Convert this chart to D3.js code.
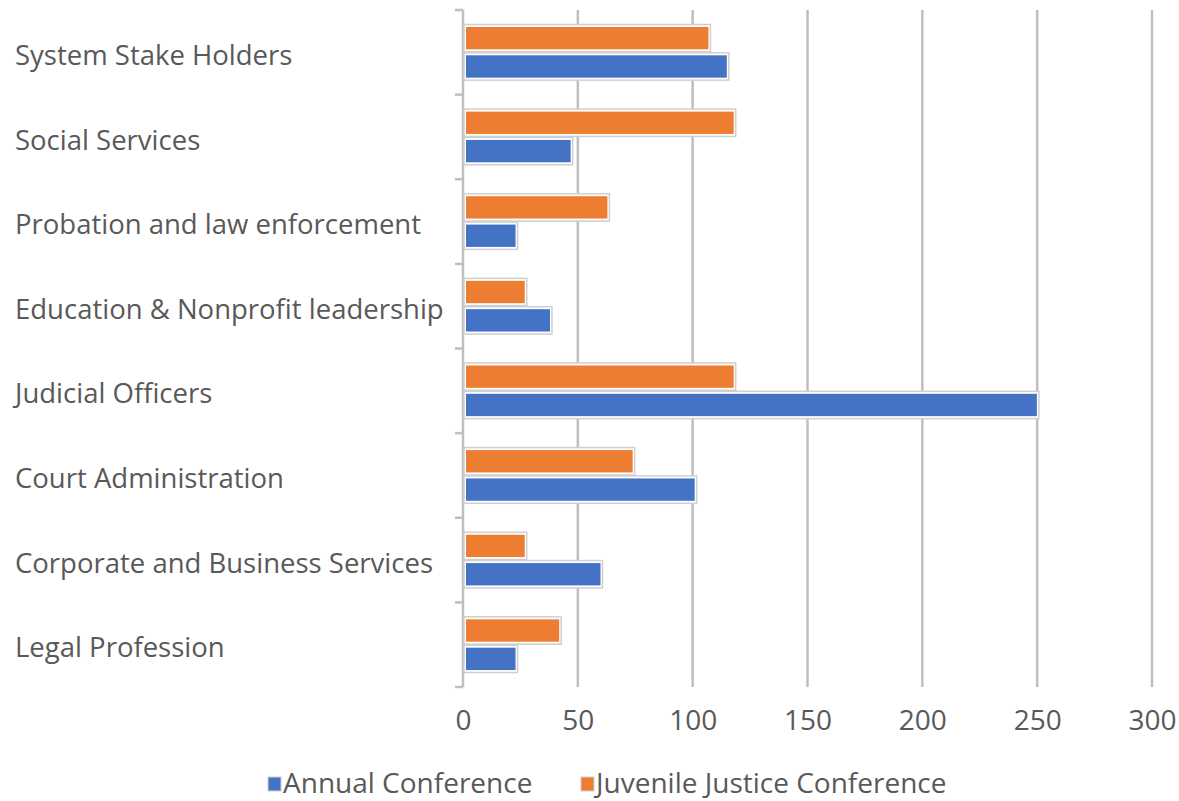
<!DOCTYPE html>
<html>
<head>
<meta charset="utf-8">
<script src="https://cdn.jsdelivr.net/npm/d3@7"></script>
<style>
  body { margin: 0; background: #fff; }
  text { font-family: 'Open Sans', 'Noto Sans', sans-serif; fill: #595959; }
</style>
</head>
<body>
<div id="chart"></div>
<script>
const categories = [
  'System Stake Holders',
  'Social Services',
  'Probation and law enforcement',
  'Education & Nonprofit leadership',
  'Judicial Officers',
  'Court Administration',
  'Corporate and Business Services',
  'Legal Profession',
]
const seriesNames = ['Juvenile Justice Conference', 'Annual Conference']
const annual = [114, 46, 22, 37, 249, 100, 59, 22]
const juvenile = [106, 117, 62, 26, 117, 73, 26, 41]
const xTicks = [0, 50, 100, 150, 200, 250, 300]

const colors = {
  'Annual Conference': '#4472C4',
  'Juvenile Justice Conference': '#ED7D31',
}

const width = 1179
const height = 801
const margin = { top: 10, right: 27, bottom: 114, left: 463 }
const innerW = width - margin.left - margin.right
const innerH = height - margin.top - margin.bottom

const rows = categories.map((c, i) => ({
  category: c,
  values: [
    { series: 'Juvenile Justice Conference', value: juvenile[i] },
    { series: 'Annual Conference', value: annual[i] },
  ],
}))

const svg = d3
  .select('#chart')
  .append('svg')
  .attr('width', width)
  .attr('height', height)

const g = svg.append('g').attr('transform', `translate(${margin.left},${margin.top})`)

const x = d3.scaleLinear().domain([0, 300]).range([0, innerW])
const y = d3.scaleBand().domain(categories).range([0, innerH]).paddingInner(0.33).paddingOuter(0.165)
const y1 = d3.scaleBand().domain(seriesNames).range([0, y.bandwidth()])

// gridlines
g.append('g')
  .selectAll('line')
  .data(xTicks.filter((d) => d > 0))
  .join('line')
  .attr('x1', (d) => x(d))
  .attr('x2', (d) => x(d))
  .attr('y1', 0)
  .attr('y2', innerH)
  .attr('stroke', '#bfbfbf')
  .attr('stroke-width', 2.5)

// x tick labels
const xAxis = g
  .append('g')
  .attr('transform', `translate(0,${innerH})`)
  .call(d3.axisBottom(x).tickValues(xTicks).tickSize(0).tickPadding(23))
xAxis.select('.domain').remove()
xAxis.selectAll('text').attr('font-size', 28).attr('fill', '#595959').style('font-family', null)

// category axis: line with ticks at band boundaries
const step = innerH / categories.length
g.append('line')
  .attr('x1', 0)
  .attr('x2', 0)
  .attr('y1', 0)
  .attr('y2', innerH)
  .attr('stroke', '#bfbfbf')
  .attr('stroke-width', 2.5)
g.append('g')
  .selectAll('line')
  .data(d3.range(categories.length + 1))
  .join('line')
  .attr('x1', -8)
  .attr('x2', 0)
  .attr('y1', (i) => i * step)
  .attr('y2', (i) => i * step)
  .attr('stroke', '#bfbfbf')
  .attr('stroke-width', 2.5)

// category labels
svg
  .append('g')
  .selectAll('text')
  .data(categories)
  .join('text')
  .attr('x', 15)
  .attr('y', (d) => margin.top + y(d) + y.bandwidth() / 2 + 3)
  .attr('dy', '0.35em')
  .attr('font-size', 27.5)
  .text((d) => d)

// bars
const groups = g
  .append('g')
  .selectAll('g')
  .data(rows)
  .join('g')
  .attr('transform', (d) => `translate(0,${y(d.category)})`)

groups
  .selectAll('rect.halo')
  .data((d) => d.values)
  .join('rect')
  .attr('class', 'halo')
  .attr('x', 1)
  .attr('y', (d) => y1(d.series) + 0.5)
  .attr('width', (d) => x(d.value) + 3)
  .attr('height', y1.bandwidth() - 1)
  .attr('fill', '#fff')
  .attr('stroke', '#cfcfcf')
  .attr('stroke-width', 1.5)

groups
  .selectAll('rect.bar')
  .data((d) => d.values)
  .join('rect')
  .attr('class', 'bar')
  .attr('x', 3)
  .attr('y', (d) => y1(d.series) + 3)
  .attr('width', (d) => x(d.value) - 1)
  .attr('height', y1.bandwidth() - 6)
  .attr('fill', (d) => colors[d.series])

// legend
const legendItems = [
  { name: 'Annual Conference', x: 268 },
  { name: 'Juvenile Justice Conference', x: 581 },
]
const legend = svg
  .append('g')
  .selectAll('g')
  .data(legendItems)
  .join('g')
  .attr('transform', (d) => `translate(${d.x},782)`)
legend
  .append('rect')
  .attr('x', 0)
  .attr('y', -5)
  .attr('width', 13)
  .attr('height', 14)
  .attr('fill', (d) => colors[d.name])
  .attr('stroke', '#cfcfcf')
  .attr('stroke-width', 1)
legend
  .append('text')
  .attr('x', 15)
  .attr('dy', '0.4em')
  .attr('font-size', 28)
  .text((d) => d.name)
</script>
</body>
</html>
